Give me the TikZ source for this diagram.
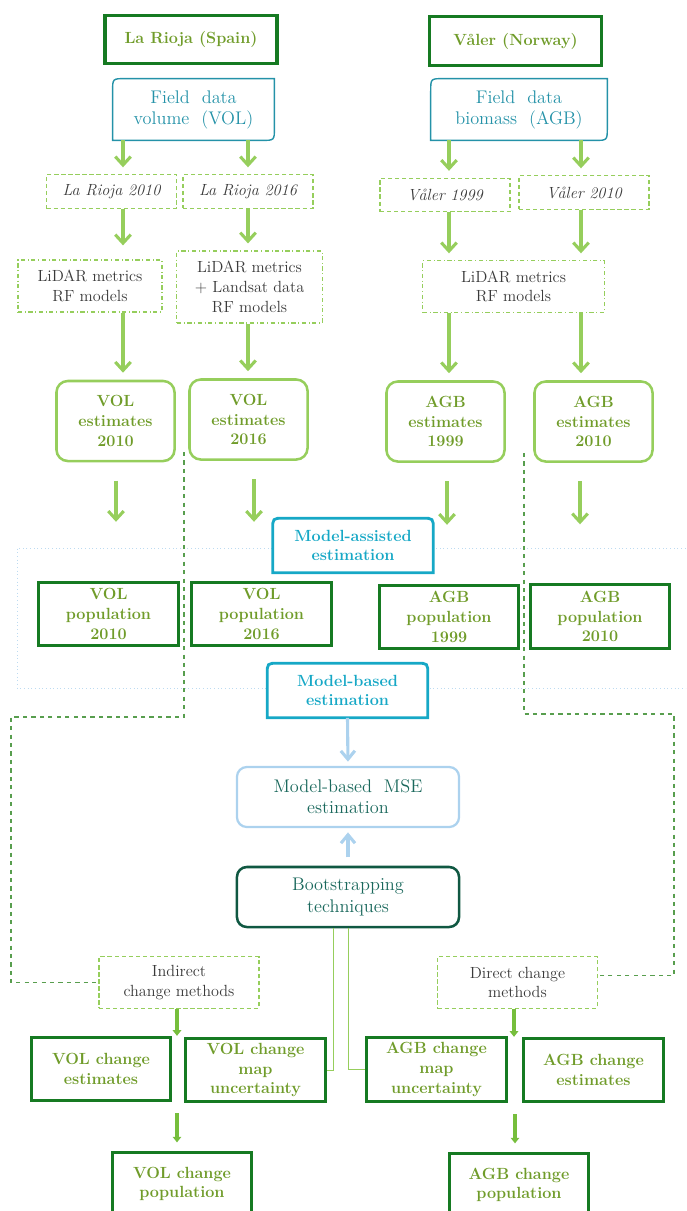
\documentclass[tikz,border=0pt]{standalone}
\usepackage{tikz}
\usetikzlibrary{arrows.meta, calc}
\definecolor{deepgreen}{RGB}{22,122,34}
\definecolor{olivetext}{RGB}{112,156,42}
\definecolor{leafgreen}{RGB}{150,206,92}
\definecolor{grassgreen}{RGB}{118,190,60}
\definecolor{fieldteal}{RGB}{36,146,168}
\definecolor{skyteal}{RGB}{22,168,198}
\definecolor{paleblue}{RGB}{172,210,238}
\definecolor{mseteal}{RGB}{26,104,92}
\definecolor{bootgreen}{RGB}{16,88,66}
\definecolor{inkgray}{RGB}{58,58,58}
\definecolor{dashgreen}{RGB}{88,158,78}
\tikzset{
    plain/.style={font=\fontsize{11.5}{14}\selectfont, align=center, inner sep=1pt},
    large/.style={font=\fontsize{13}{15}\selectfont, align=center, inner sep=1pt},
    bold/.style={font=\fontsize{11.5}{14}\selectfont\bfseries, align=center, inner sep=1pt},
    regionbox/.style={bold, draw=deepgreen, line width=2.2pt, text=olivetext, minimum width=4.3cm, minimum height=1.22cm},
    fieldbox/.style={large, text=fieldteal, minimum height=1.53cm},
    fieldline/.style={draw=fieldteal, line width=1pt},
    yearbox/.style={plain, font=\fontsize{11.5}{14}\selectfont\itshape, draw=leafgreen, densely dashed, line width=0.8pt, text=inkgray, minimum width=3.25cm, minimum height=0.83cm},
    lidarbox/.style={plain, draw=leafgreen, dash dot, line width=0.8pt, text=inkgray},
    estbox/.style={bold, draw=leafgreen, rounded corners=8pt, line width=1.8pt, text=olivetext, minimum width=2.95cm, minimum height=2cm},
    popbox/.style={bold, draw=deepgreen, fill=white, line width=2.2pt, text=olivetext, minimum width=3.48cm, minimum height=1.58cm},
    capbox/.style={bold, fill=white, text=skyteal, minimum width=4cm, minimum height=1.35cm},
    capline/.style={draw=skyteal, line width=2pt},
    msebox/.style={large, draw=paleblue, rounded corners=7pt, line width=1.6pt, text=mseteal, minimum width=5.55cm, minimum height=1.5cm},
    bootbox/.style={large, draw=bootgreen, rounded corners=7pt, line width=1.8pt, text=mseteal, minimum width=5.55cm, minimum height=1.5cm},
    methodbox/.style={plain, draw=leafgreen, densely dashed, line width=0.8pt, text=inkgray, minimum width=4cm, minimum height=1.28cm},
    flow/.style={-{Straight Barb[length=6pt, width=11pt]}, leafgreen, line width=2.2pt, shorten >=5pt},
    skyflow/.style={-{Straight Barb[length=6pt, width=10pt]}, paleblue, line width=2.2pt},
    growth/.style={-{Triangle[length=4pt, width=6pt]}, grassgreen, line width=2.4pt},
    dashlink/.style={dashgreen, dashed, line width=0.9pt},
    thinlink/.style={leafgreen, line width=0.7pt},
    zone/.style={paleblue!80, dotted, line width=0.6pt}
}
% frame with rounded top left and bottom right corners
\newcommand{\fieldframe}[1]{%
    \draw[fieldline] (#1.south west) -- ([yshift=-9pt]#1.north west)
        .. controls (#1.north west) .. ([xshift=9pt]#1.north west) -- (#1.north east)
        -- ([yshift=9pt]#1.south east)
        .. controls (#1.south east) .. ([xshift=-9pt]#1.south east) -- cycle;}
% frame with rounded top corners
\newcommand{\capframe}[1]{%
    \draw[capline] (#1.south west) -- ([yshift=-8pt]#1.north west)
        .. controls (#1.north west) .. ([xshift=8pt]#1.north west)
        -- ([xshift=-8pt]#1.north east)
        .. controls (#1.north east) .. ([yshift=-8pt]#1.north east)
        -- (#1.south east) -- cycle;}

\begin{document}
\begin{tikzpicture}[x=0.025cm, y=-0.025cm]
    \useasboundingbox (0,0) rectangle (686,1211);
    \clip (0,0) rectangle (686,1211);

    % estimation zone
    \draw[zone] (700,548) -- (17,548) -- (17,688) -- (700,688);

    % sites
    \node[regionbox] (lr) at (191,39.5) {La Rioja (Spain)};
    \node[regionbox] (vr) at (515.5,41) {Våler (Norway)};

    \node[fieldbox, minimum width=4.03cm] (fv) at (193.5,109.5) {Field\ \ data\\volume\ \ (VOL)};
    \node[fieldbox, minimum width=4.4cm] (fa) at (519,109.5) {Field\ \ data\\biomass\ \ (AGB)};
    \fieldframe{fv}
    \fieldframe{fa}

    \node[yearbox] (r10) at (111.5,191.5) {La Rioja 2010};
    \node[yearbox] (r16) at (248,191.5) {La Rioja 2016};
    \node[yearbox] (v99) at (445,195) {Våler 1999};
    \node[yearbox] (v10) at (584,192.5) {Våler 2010};

    \node[lidarbox, minimum width=3.6cm, minimum height=1.3cm] (lidL) at (90,286) {LiDAR metrics\\RF models};
    \node[lidarbox, minimum width=3.63cm, minimum height=1.8cm] (lidLs) at (249.5,287) {LiDAR metrics\\+ Landsat data\\RF models};
    \node[lidarbox, minimum width=4.53cm, minimum height=1.28cm] (lidV) at (513.5,286.5) {LiDAR metrics\\RF models};

    \node[estbox] (e10) at (115.5,421) {VOL\\estimates\\2010};
    \node[estbox] (e16) at (248.5,419.5) {VOL\\estimates\\2016};
    \node[estbox] (a99) at (445.5,421.5) {AGB\\estimates\\1999};
    \node[estbox] (a10) at (593.5,421.5) {AGB\\estimates\\2010};

    % links to the change methods
    \coordinate (lsplit) at (184,452);
    \coordinate (rsplit) at (524,453);

    \node[popbox] (p10) at (108.5,614) {VOL\\population\\2010};
    \node[popbox] (p16) at (261.5,614) {VOL\\population\\2016};
    \node[popbox] (q99) at (449,617) {AGB\\population\\1999};
    \node[popbox] (q10) at (600,616.5) {AGB\\population\\2010};

    \node[capbox] (ma) at (353,545.5) {Model-assisted\\estimation};
    \node[capbox] (mb) at (347.5,690.5) {Model-based\\estimation};
    \capframe{ma}
    \capframe{mb}

    \node[msebox] (mse) at (348,797) {Model-based\ \ MSE\\estimation};
    \node[bootbox] (boot) at (348,897) {Bootstrapping\\techniques};

    \node[methodbox] (ind) at (179,982.5) {Indirect\\change methods};
    \node[methodbox] (dir) at (517.5,982.5) {Direct change\\methods};

    \node[popbox] (vce) at (101,1069) {VOL change\\estimates};
    \node[popbox] (vmap) at (255.5,1070) {VOL change\\map\\uncertainty};
    \node[popbox] (amap) at (436.5,1069.5) {AGB change\\map\\uncertainty};
    \node[popbox] (ace) at (593.5,1070) {AGB change\\estimates};

    \node[popbox] (vcp) at (182,1184) {VOL change\\population};
    \node[popbox] (acp) at (519,1185) {AGB change\\population};

    % arrows
    \draw[flow] (fv.south -| 123,0) -- (r10.north -| 123,0);
    \draw[flow] (fv.south -| 248,0) -- (r16.north -| 248,0);
    \draw[flow] (fa.south -| 449,0) -- (v99.north -| 449,0);
    \draw[flow] (fa.south -| 581,0) -- (v10.north -| 581,0);
    \draw[flow, shorten >=10pt] (r10.south -| 123,0) -- (lidL.north -| 123,0);
    \draw[flow] (r16.south -| 248,0) -- (lidLs.north -| 248,0);
    \draw[flow] (v99.south -| 449,0) -- (lidV.north -| 449,0);
    \draw[flow] (v10.south -| 581,0) -- (lidV.north -| 581,0);
    \draw[flow] (lidL.south -| 123,0) -- (e10.north -| 123,0);
    \draw[flow] (lidLs.south -| 248,0) -- (e16.north -| 248,0);
    \draw[flow] (lidV.south -| 449,0) -- (a99.north -| 449,0);
    \draw[flow] (lidV.south -| 581,0) -- (a10.north -| 581,0);
    \foreach \a/\b/\x in {e10/p10/116, e16/p16/254, a99/q99/447, a10/q10/580}
        \draw[flow, shorten <=13pt, shorten >=42pt] (\a.south -| \x,0) -- (\b.north -| \x,0);

    \draw[skyflow, shorten >=3pt] (mb.south) -- (mse.north);
    \draw[skyflow, shorten <=6pt, shorten >=3pt] (boot.north) -- (mse.south);

    \draw[dashlink] (lsplit) -- (184,717) -- (11,717) |- (ind.west);
    \draw[dashlink] (rsplit) -- (524,714) -- (674,714) |- ([yshift=5pt]dir.east);

    \draw[thinlink] ([xshift=-10pt]boot.south) |- (vmap.east);
    \draw[thinlink] (boot.south) |- (amap.west);

    \draw[growth] (ind.south -| 177,0) -- (vce.north -| 177,0);
    \draw[growth, shorten <=8pt, shorten >=6pt] (vce.south -| 177,0) -- (vcp.north -| 177,0);
    \draw[growth] (dir.south -| 514,0) -- (ace.north -| 514,0);
    \draw[growth, shorten <=8pt, shorten >=6pt] (ace.south -| 515,0) -- (acp.north -| 515,0);
\end{tikzpicture}
\end{document}
